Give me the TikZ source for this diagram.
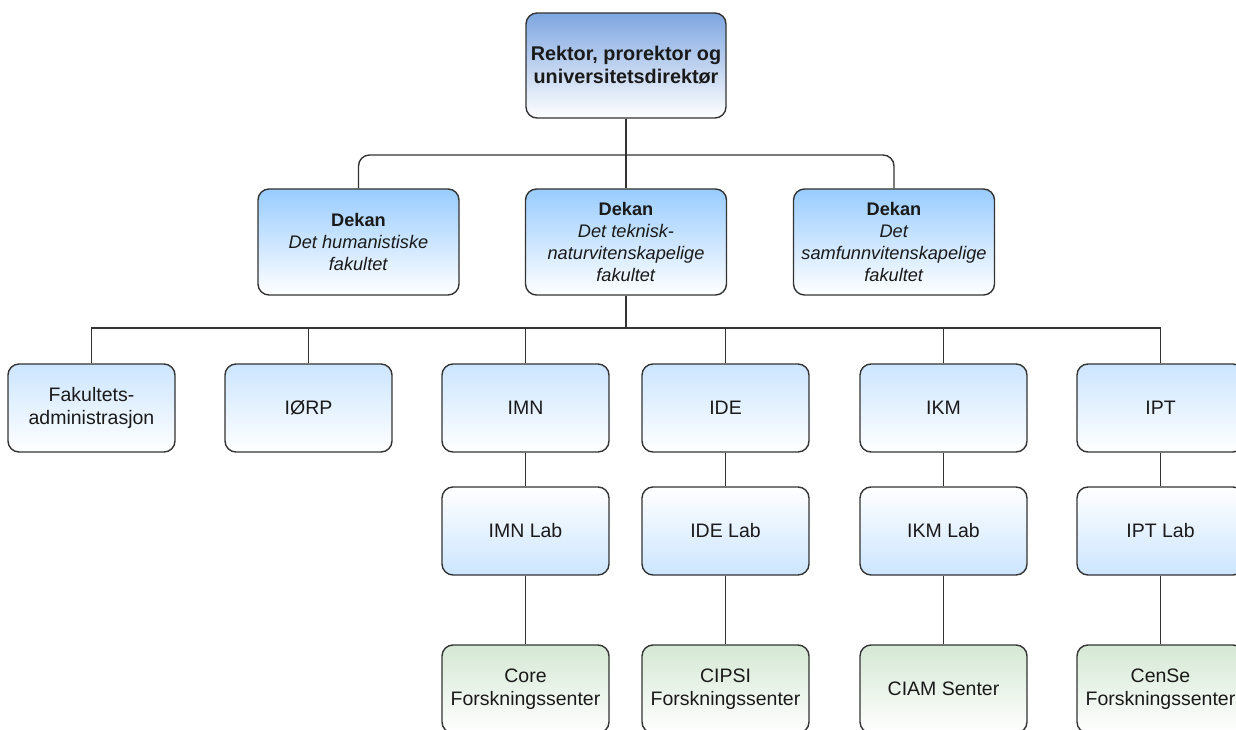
\documentclass[tikz,border=0pt]{standalone}
\usepackage{fontspec}
\setmainfont{Liberation Sans}
\definecolor{bordc}{HTML}{333333}
\definecolor{topblue}{HTML}{7EA6E0}
\definecolor{dekblue}{HTML}{99CCFF}
\definecolor{lightblue}{HTML}{CCE5FF}
\definecolor{lightgreen}{HTML}{D5E8D4}
\definecolor{txt}{HTML}{1A1A1A}
\begin{document}
\begin{tikzpicture}[x=1pt,y=-1pt,
  box/.style={draw=bordc, line width=1.4pt, rounded corners=11pt, align=center,
    text=txt, inner sep=2pt, font=\fontsize{19.5}{23}\selectfont},
  rootbox/.style={box, minimum width=200pt, minimum height=105pt, top color=topblue, bottom color=white,
    font=\bfseries\fontsize{19.8}{23}\selectfont},
  dekbox/.style={box, minimum width=201pt, minimum height=106pt, top color=dekblue, bottom color=white,
    font=\fontsize{18.2}{22.3}\selectfont},
  unitbox/.style={box, minimum width=167pt, minimum height=88pt, top color=lightblue, bottom color=white},
  labbox/.style={box, minimum width=167pt, minimum height=88pt, top color=white, bottom color=lightblue},
  senbox/.style={box, minimum width=167pt, minimum height=88pt, top color=lightgreen, bottom color=white},
  conn/.style={draw=bordc, line width=1.4pt},
]
\useasboundingbox (0,0) rectangle (1236,730);
\fill[white] (0,0) rectangle (1236,730);

% root
\node[rootbox] (root) at (626,65.5) {Rektor, prorektor og\\universitetsdirektør};

% deans
\node[dekbox] (dL) at (358.5,242) {\textbf{Dekan}\\\textit{Det humanistiske}\\\textit{fakultet}};
\node[dekbox] (dM) at (626,242) {\textbf{Dekan}\\\textit{Det teknisk-}\\\textit{naturvitenskapelige}\\\textit{fakultet}};
\node[dekbox] (dR) at (894,242) {\textbf{Dekan}\\\textit{Det}\\\textit{samfunnvitenskapelige}\\\textit{fakultet}};

% units
\node[unitbox] (fa) at (91.5,408) {Fakultets-\\administrasjon};
\node[unitbox] (iorp) at (308.5,408) {IØRP};
\node[unitbox] (imn) at (525.5,408) {IMN};
\node[unitbox] (ide) at (725.5,408) {IDE};
\node[unitbox] (ikm) at (943.5,408) {IKM};
\node[unitbox] (ipt) at (1160.5,408) {IPT};

% labs
\node[labbox] (imnl) at (525.5,531) {IMN Lab};
\node[labbox] (idel) at (725.5,531) {IDE Lab};
\node[labbox] (ikml) at (943.5,531) {IKM Lab};
\node[labbox] (iptl) at (1160.5,531) {IPT Lab};

% centres
\node[senbox] (core) at (525.5,689) {Core\\Forskningssenter};
\node[senbox] (cipsi) at (725.5,689) {CIPSI\\Forskningssenter};
\node[senbox] (ciam) at (943.5,689) {CIAM Senter};
\node[senbox] (cense) at (1160.5,689) {CenSe\\Forskningssenter};

\coordinate (bus1) at (626,155);
\coordinate (bus2) at (626,328);

% top connectors
\draw[conn] (root.south) -- (dM.north);
\draw[conn, rounded corners=11pt] (dL.north) |- (bus1);
\draw[conn, rounded corners=11pt] (dR.north) |- (bus1);

% lower connectors
\draw[conn] (dM.south) -- (bus2);
\foreach \n in {fa,iorp,imn,ide,ikm,ipt}{
  \draw[conn] (\n.north) |- (bus2);
}
\draw[conn] (imn.south) -- (imnl.north);
\draw[conn] (ide.south) -- (idel.north);
\draw[conn] (ikm.south) -- (ikml.north);
\draw[conn] (ipt.south) -- (iptl.north);
\draw[conn] (imnl.south) -- (core.north);
\draw[conn] (idel.south) -- (cipsi.north);
\draw[conn] (ikml.south) -- (ciam.north);
\draw[conn] (iptl.south) -- (cense.north);
\end{tikzpicture}
\end{document}
